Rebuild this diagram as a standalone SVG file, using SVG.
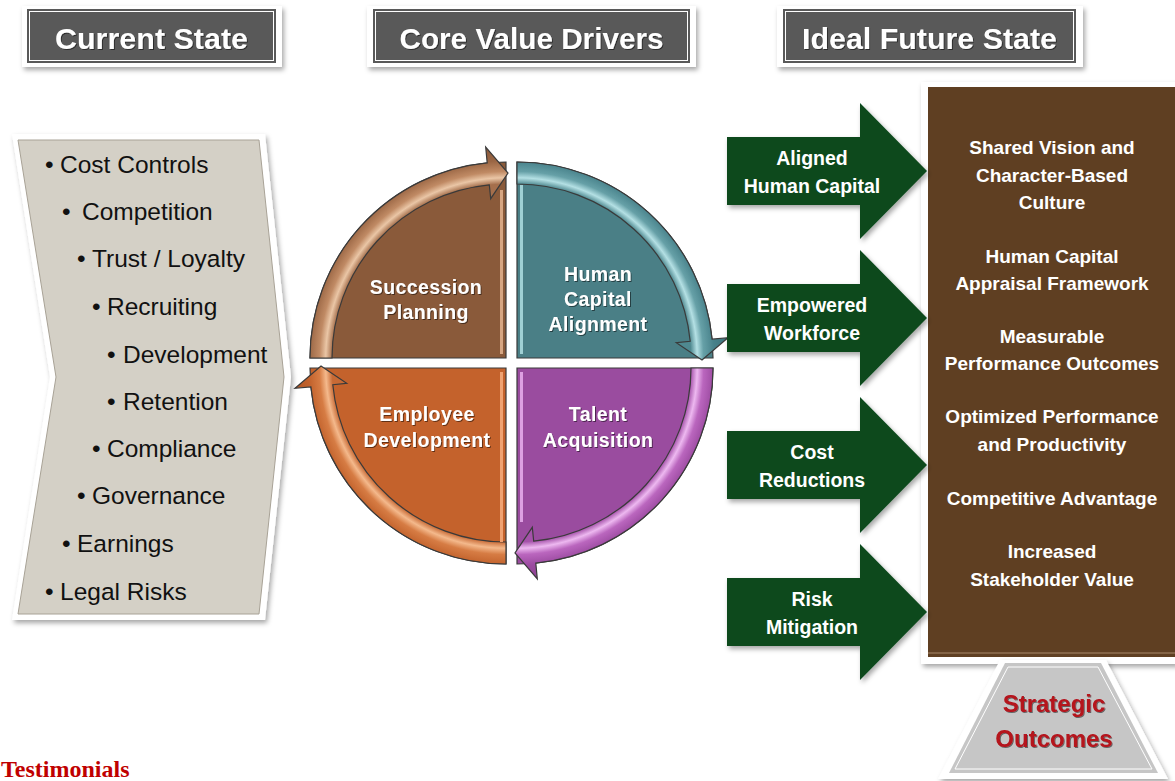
<svg xmlns="http://www.w3.org/2000/svg" width="1175" height="781" viewBox="0 0 1175 781">
<defs>
<filter id="sh" x="-10%" y="-10%" width="130%" height="130%"><feDropShadow dx="2" dy="3" stdDeviation="2.5" flood-color="#000" flood-opacity="0.35"/></filter>
<filter id="ts" x="-10%" y="-20%" width="130%" height="150%"><feDropShadow dx="1" dy="1" stdDeviation="0.7" flood-color="#000" flood-opacity="0.5"/></filter>
<radialGradient id="gTL" gradientUnits="userSpaceOnUse" cx="0" cy="0" r="212">
<stop offset="0.82" stop-color="#A56F4C"/><stop offset="0.85" stop-color="#EAC6A6"/><stop offset="0.88" stop-color="#C08A64"/><stop offset="0.93" stop-color="#9A6644"/><stop offset="1" stop-color="#8A583A"/>
</radialGradient>
<radialGradient id="gTR" gradientUnits="userSpaceOnUse" cx="0" cy="0" r="212">
<stop offset="0.82" stop-color="#4F8990"/><stop offset="0.85" stop-color="#B4E0E4"/><stop offset="0.88" stop-color="#66A0A7"/><stop offset="0.93" stop-color="#47818A"/><stop offset="1" stop-color="#3E747C"/>
</radialGradient>
<radialGradient id="gBR" gradientUnits="userSpaceOnUse" cx="0" cy="0" r="212">
<stop offset="0.82" stop-color="#A552AA"/><stop offset="0.85" stop-color="#EDB8F0"/><stop offset="0.88" stop-color="#BA66BE"/><stop offset="0.93" stop-color="#9C4BA1"/><stop offset="1" stop-color="#8C4291"/>
</radialGradient>
<radialGradient id="gBL" gradientUnits="userSpaceOnUse" cx="0" cy="0" r="212">
<stop offset="0.82" stop-color="#C86A35"/><stop offset="0.85" stop-color="#F4B98C"/><stop offset="0.88" stop-color="#D67C44"/><stop offset="0.93" stop-color="#C2622C"/><stop offset="1" stop-color="#B05624"/>
</radialGradient>
<path id="pie" d="M0,0 L-196,0 A196,196 0 0 1 0,-196 Z"/>
<path id="band" d="M-196,0 A196,196 0 0 1 -18.8,-195.1 L-20.3,-211 L2,-185 L-15.3,-159.3 L-16.7,-173.2 A174,174 0 0 0 -174,0 Z"/>
<style>
.frame{fill:#fff;filter:url(#sh)}
.hdr{fill:#595959}
.hdrIn{fill:none;stroke:#fff;stroke-width:1}
.hdrT{font-family:"Liberation Sans",Arial,sans-serif;font-weight:bold;font-size:30px;fill:#fff;text-anchor:middle;filter:url(#ts)}
.li{font-family:"Liberation Sans",Arial,sans-serif;font-size:24.5px;fill:#111}
.pieO{stroke:#3a3a3a;stroke-width:1.2}
.bandO{stroke:#3a3a3a;stroke-width:1.2}
.ql{font-family:"Liberation Sans",Arial,sans-serif;font-weight:bold;font-size:19.5px;fill:#fff;text-anchor:middle;letter-spacing:0.4px;filter:url(#ts)}
.ga{fill:#0D4A1F;filter:url(#sh)}
.gl{font-family:"Liberation Sans",Arial,sans-serif;font-weight:bold;font-size:19.5px;fill:#fff;text-anchor:middle}
.bt{font-family:"Liberation Sans",Arial,sans-serif;font-weight:bold;font-size:19px;fill:#fff;text-anchor:middle}
.so{font-family:"Liberation Sans",Arial,sans-serif;font-weight:bold;font-size:24px;fill:#B5121B;text-anchor:middle;filter:url(#ts)}
</style>
</defs>
<rect width="1175" height="781" fill="#fff"/>

<g id="hdr-current">
<rect class="frame" x="22" y="6" width="260" height="61"/>
<rect class="hdr" x="27" y="9" width="249" height="54"/>
<rect class="hdrIn" x="29.5" y="11.5" width="244" height="49"/>
<text class="hdrT" x="151.5" y="49" textLength="193" lengthAdjust="spacingAndGlyphs">Current State</text>
</g>
<g id="hdr-core">
<rect class="frame" x="367" y="6" width="329" height="61"/>
<rect class="hdr" x="373" y="9" width="317" height="54"/>
<rect class="hdrIn" x="375.5" y="11.5" width="312" height="49"/>
<text class="hdrT" x="531.5" y="49" textLength="264" lengthAdjust="spacingAndGlyphs">Core Value Drivers</text>
</g>
<g id="hdr-ideal">
<rect class="frame" x="777" y="6" width="306" height="61"/>
<rect class="hdr" x="783" y="9" width="293" height="54"/>
<rect class="hdrIn" x="785.5" y="11.5" width="288" height="49"/>
<text class="hdrT" x="929.5" y="49" textLength="255" lengthAdjust="spacingAndGlyphs">Ideal Future State</text>
</g>

<g id="current-state">
<path class="frame" d="M12,134 L265,134 L291,377 L265,620 L12,620 L50,377 Z"/>
<path d="M18,140 L259,140 L284,377 L259,614 L18,614 L56,377 Z" fill="#D4D0C6" stroke="#A8A296" stroke-width="1"/>
<g class="li">
<text x="45" y="173">•</text><text x="60" y="173">Cost Controls</text>
<text x="62" y="220">•</text><text x="82" y="220">Competition</text>
<text x="77" y="267">•</text><text x="92" y="267">Trust / Loyalty</text>
<text x="92" y="315">•</text><text x="107" y="315">Recruiting</text>
<text x="107" y="363">•</text><text x="123" y="363">Development</text>
<text x="107" y="410">•</text><text x="123" y="410">Retention</text>
<text x="92" y="457">•</text><text x="107" y="457">Compliance</text>
<text x="77" y="504">•</text><text x="92" y="504">Governance</text>
<text x="62" y="552">•</text><text x="77" y="552">Earnings</text>
<text x="45" y="600">•</text><text x="60" y="600">Legal Risks</text>
</g>
</g>

<g id="succession-planning">
<g transform="translate(506,358)">
<use href="#pie" class="pieO" fill="#8A5A3A"/>
<use href="#band" class="bandO" fill="url(#gTL)"/>
</g>
<rect x="500" y="190" width="3" height="164" fill="#D6A683"/>
<text class="ql" x="426" y="294">Succession</text>
<text class="ql" x="426" y="319">Planning</text>
</g>
<g id="human-capital-alignment">
<g transform="translate(517,358) rotate(90)">
<use href="#pie" class="pieO" fill="#4A7F86"/>
<use href="#band" class="bandO" fill="url(#gTR)"/>
</g>
<rect x="520" y="185" width="3" height="169" fill="#9FD0D4"/>
<text class="ql" x="598" y="281">Human</text>
<text class="ql" x="598" y="306">Capital</text>
<text class="ql" x="598" y="331">Alignment</text>
</g>
<g id="talent-acquisition">
<g transform="translate(517,368) rotate(180)">
<use href="#pie" class="pieO" fill="#9A4C9F"/>
<use href="#band" class="bandO" fill="url(#gBR)"/>
</g>
<rect x="520" y="372" width="3" height="150" fill="#DDA0E2"/>
<text class="ql" x="598" y="421">Talent</text>
<text class="ql" x="598" y="447">Acquisition</text>
</g>
<g id="employee-development">
<g transform="translate(506,368) rotate(270)">
<use href="#pie" class="pieO" fill="#C4622C"/>
<use href="#band" class="bandO" fill="url(#gBL)"/>
</g>
<rect x="500" y="372" width="3" height="170" fill="#EFA272"/>
<text class="ql" x="427" y="421">Employee</text>
<text class="ql" x="427" y="447">Development</text>
</g>

<g id="ideal-future-state">
<rect class="frame" x="921" y="82" width="256" height="582"/>
<rect x="928" y="87" width="247" height="570" fill="#5F3F22"/>
<line x1="928" y1="653" x2="1175" y2="653" stroke="#A8896A" stroke-width="1"/>
<text class="bt" x="1052" y="154">Shared Vision and</text>
<text class="bt" x="1052" y="182">Character-Based</text>
<text class="bt" x="1052" y="209">Culture</text>
<text class="bt" x="1052" y="263">Human Capital</text>
<text class="bt" x="1052" y="290">Appraisal Framework</text>
<text class="bt" x="1052" y="343">Measurable</text>
<text class="bt" x="1052" y="370">Performance Outcomes</text>
<text class="bt" x="1052" y="423">Optimized Performance</text>
<text class="bt" x="1052" y="451">and Productivity</text>
<text class="bt" x="1052" y="505">Competitive Advantage</text>
<text class="bt" x="1052" y="558">Increased</text>
<text class="bt" x="1052" y="586">Stakeholder Value</text>
</g>

<g id="strategic-outcomes">
<polygon class="frame" points="1000,660 1106,660 1168,779 938,779"/>
<polygon points="1005,663 1101,663 1158,773 949,773" fill="#C6C6C6"/>
<polygon points="1008,667 1098,667 1152,769 955,769" fill="none" stroke="#fff" stroke-width="1"/>
<text class="so" x="1054" y="712">Strategic</text>
<text class="so" x="1054" y="747">Outcomes</text>
</g>

<g id="connectors">
<g id="arrow-aligned">
<path class="ga" d="M727,137 L860,137 L860,103 L927,171 L860,239 L860,205 L727,205 Z"/>
<text class="gl" x="812" y="165">Aligned</text>
<text class="gl" x="812" y="193">Human Capital</text>
</g>
<g id="arrow-empowered">
<path class="ga" d="M727,284 L860,284 L860,250 L927,318 L860,386 L860,352 L727,352 Z"/>
<text class="gl" x="812" y="312">Empowered</text>
<text class="gl" x="812" y="340">Workforce</text>
</g>
<g id="arrow-cost">
<path class="ga" d="M727,431 L860,431 L860,397 L927,465 L860,533 L860,499 L727,499 Z"/>
<text class="gl" x="812" y="459">Cost</text>
<text class="gl" x="812" y="487">Reductions</text>
</g>
<g id="arrow-risk">
<path class="ga" d="M727,578 L860,578 L860,544 L927,612 L860,680 L860,646 L727,646 Z"/>
<text class="gl" x="812" y="606">Risk</text>
<text class="gl" x="812" y="634">Mitigation</text>
</g>
</g>

<text x="1" y="777" font-family="'Liberation Serif','Times New Roman',serif" font-weight="bold" font-size="24" fill="#C00000">Testimonials</text>
</svg>
